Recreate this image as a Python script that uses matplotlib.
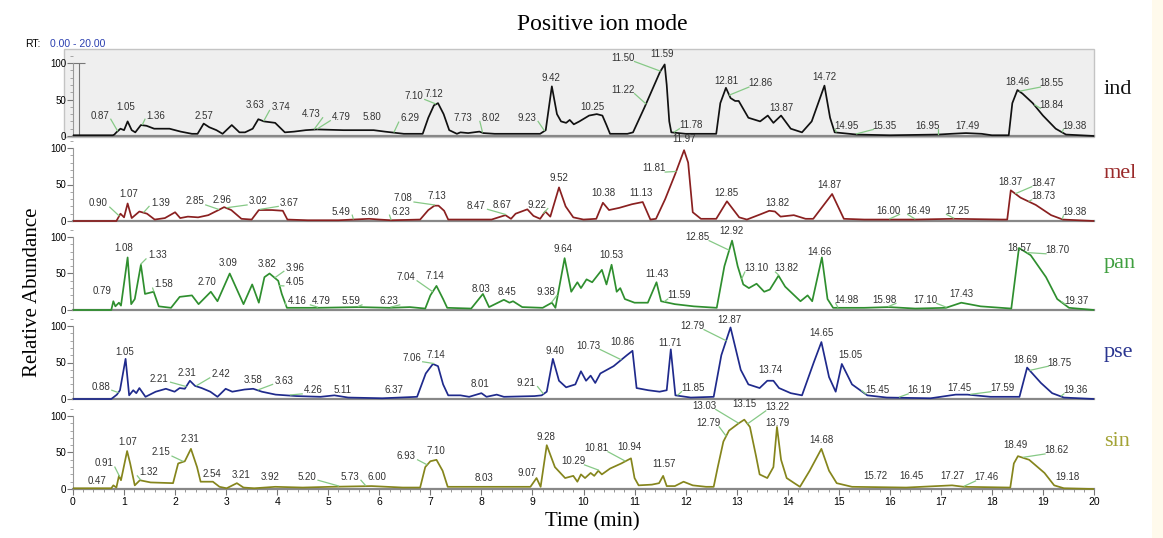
import numpy as np
import matplotlib
matplotlib.use("Agg")
import matplotlib.pyplot as plt
from matplotlib.patches import Rectangle
from matplotlib.ticker import MultipleLocator

# chromatogram traces: (time [min], relative abundance)
ind_trace = [(0, 1), (0.78, 1), (0.81, 2), (0.85, 5), (0.93, 10), (1.0, 8), (1.07, 20), (1.15, 8), (1.22, 5),
             (1.33, 15), (1.44, 14), (1.59, 10), (1.89, 10), (2.11, 6), (2.33, 3), (2.44, 3), (2.56, 17),
             (2.67, 12), (2.81, 8), (2.93, 3), (3.11, 15), (3.26, 5), (3.37, 5), (3.52, 10), (3.63, 23),
             (3.74, 20), (3.96, 18), (4.15, 5), (4.33, 6), (4.56, 8), (4.78, 9), (5.3, 8), (5.89, 8),
             (6.11, 6), (6.48, 3), (6.85, 3), (6.96, 25), (7.07, 42), (7.15, 45), (7.26, 30), (7.37, 8),
             (7.52, 3), (7.59, 5), (7.74, 4), (7.96, 6), (8.04, 4), (8.26, 3), (9.15, 3), (9.26, 8),
             (9.38, 68), (9.48, 30), (9.56, 20), (9.66, 18), (9.73, 22), (9.81, 16), (9.92, 20), (10.11, 28),
             (10.26, 30), (10.37, 28), (10.45, 15), (10.52, 3), (10.86, 3), (10.97, 5), (11.2, 40),
             (11.4, 72), (11.5, 88), (11.59, 98), (11.63, 70), (11.68, 20), (11.72, 5), (12.0, 3),
             (12.6, 3), (12.68, 45), (12.79, 66), (12.88, 52), (12.97, 48), (13.04, 48), (13.23, 25),
             (13.46, 20), (13.61, 28), (13.72, 18), (13.87, 28), (14.06, 10), (14.28, 5), (14.47, 20),
             (14.72, 69), (14.83, 25), (14.92, 5), (15.35, 2), (16.0, 1), (16.95, 2), (17.2, 3),
             (17.49, 4), (17.8, 3), (18.0, 1), (18.33, 1), (18.4, 45), (18.5, 63), (18.6, 58),
             (18.8, 45), (19.0, 28), (19.25, 10), (19.45, 2), (20, 0)]
mel_trace = [(0, 0), (0.85, 0), (0.93, 10), (1.0, 5), (1.07, 24), (1.15, 4), (1.3, 13), (1.45, 10),
             (1.6, 2), (1.8, 4), (2.0, 12), (2.1, 4), (2.25, 6), (2.45, 5), (2.65, 8), (2.85, 15),
             (2.96, 19), (3.1, 15), (3.3, 3), (3.5, 2), (3.64, 15), (3.9, 15), (4.11, 14), (4.2, 2),
             (4.6, 1), (5.2, 1), (5.49, 2), (5.8, 3), (6.0, 2), (6.23, 1), (6.8, 2), (6.96, 15),
             (7.08, 21), (7.16, 21), (7.27, 14), (7.35, 2), (8.2, 2), (8.47, 8), (8.58, 3), (8.67, 10),
             (8.9, 16), (9.02, 7), (9.15, 3), (9.25, 13), (9.35, 6), (9.52, 46), (9.65, 20), (9.8, 5),
             (10.0, 2), (10.25, 3), (10.38, 25), (10.5, 15), (10.7, 18), (10.95, 23), (11.16, 26),
             (11.31, 2), (11.42, 3), (11.6, 30), (11.8, 65), (11.97, 97), (12.05, 80), (12.14, 12),
             (12.3, 3), (12.6, 3), (12.81, 27), (13.05, 5), (13.2, 2), (13.46, 9), (13.64, 14),
             (13.75, 13), (13.86, 6), (14.12, 8), (14.35, 3), (14.5, 3), (14.87, 37), (15.1, 3),
             (15.5, 2), (16.0, 2), (16.49, 2), (17.25, 3), (18.2, 2), (18.3, 2), (18.37, 42),
             (18.56, 32), (18.86, 22), (19.16, 8), (19.39, 2), (20, 0)]
pan_trace = [(0, 0), (0.75, 0), (0.79, 12), (0.83, 5), (0.9, 10), (0.94, 6), (1.07, 72), (1.14, 8),
             (1.21, 15), (1.33, 62), (1.41, 22), (1.58, 25), (1.68, 5), (1.92, 3), (2.09, 18), (2.33, 20),
             (2.46, 8), (2.7, 25), (2.83, 12), (3.07, 50), (3.34, 8), (3.51, 35), (3.64, 10), (3.75, 45),
             (3.85, 50), (4.02, 40), (4.09, 22), (4.19, 3), (4.8, 3), (5.6, 4), (6.2, 3), (6.6, 4),
             (6.9, 2), (7.0, 20), (7.12, 33), (7.25, 15), (7.33, 3), (7.8, 2), (8.03, 22), (8.15, 4),
             (8.44, 14), (8.55, 10), (8.62, 12), (8.8, 4), (9.2, 3), (9.38, 10), (9.45, 3), (9.63, 71),
             (9.76, 25), (9.88, 38), (9.95, 30), (10.06, 42), (10.17, 38), (10.36, 55), (10.45, 35),
             (10.55, 62), (10.65, 25), (10.72, 30), (10.81, 15), (11.0, 10), (11.26, 10), (11.43, 38),
             (11.52, 12), (11.79, 8), (12.16, 5), (12.61, 3), (12.76, 60), (12.91, 95), (13.02, 60),
             (13.13, 35), (13.24, 30), (13.39, 36), (13.54, 25), (13.65, 28), (13.82, 47), (13.95, 32),
             (14.1, 22), (14.25, 12), (14.39, 20), (14.48, 12), (14.67, 72), (14.78, 15), (14.89, 3),
             (15.5, 3), (15.98, 4), (16.5, 2), (17.1, 3), (17.4, 10), (17.78, 5), (18.38, 2),
             (18.53, 85), (18.76, 75), (19.06, 45), (19.28, 15), (19.51, 3), (20, 0)]
pse_trace = [(0, 0), (0.75, 0), (0.86, 6), (0.92, 12), (1.03, 55), (1.1, 5), (1.18, 12), (1.24, 8),
             (1.3, 15), (1.42, 3), (1.62, 10), (1.82, 14), (1.99, 10), (2.09, 15), (2.19, 14), (2.29, 25),
             (2.39, 18), (2.52, 15), (2.69, 10), (2.83, 3), (2.99, 14), (3.12, 10), (3.36, 13),
             (3.53, 14), (3.7, 10), (3.97, 6), (4.38, 4), (4.85, 3), (5.12, 5), (5.39, 2), (6.06, 1),
             (6.74, 3), (6.91, 35), (7.05, 48), (7.15, 45), (7.25, 20), (7.35, 5), (7.59, 5), (7.76, 3),
             (8.0, 8), (8.1, 3), (8.3, 6), (8.44, 3), (9.04, 4), (9.18, 5), (9.28, 10), (9.4, 55),
             (9.52, 25), (9.66, 16), (9.84, 20), (9.95, 38), (10.05, 25), (10.14, 32), (10.23, 22),
             (10.33, 35), (10.59, 45), (10.85, 60), (10.96, 66), (11.04, 15), (11.27, 12), (11.49, 10),
             (11.63, 12), (11.71, 68), (11.8, 5), (12.1, 2), (12.55, 3), (12.7, 60), (12.88, 98),
             (13.08, 40), (13.23, 20), (13.45, 15), (13.6, 25), (13.72, 25), (13.83, 15), (14.06, 8),
             (14.28, 5), (14.51, 50), (14.66, 78), (14.81, 30), (14.94, 10), (15.06, 48), (15.26, 20),
             (15.56, 5), (15.94, 2), (16.8, 1), (17.29, 6), (17.52, 6), (17.97, 3), (18.54, 3),
             (18.69, 43), (18.96, 22), (19.18, 8), (19.41, 2), (20, 0)]
sin_trace = [(0, 1), (0.75, 1), (0.79, 5), (0.85, 2), (0.9, 18), (0.94, 12), (1.06, 52), (1.12, 35),
             (1.21, 5), (1.31, 12), (1.52, 9), (1.96, 8), (2.06, 35), (2.19, 38), (2.31, 55), (2.43, 30),
             (2.5, 10), (2.74, 10), (2.87, 3), (3.01, 1), (3.21, 8), (3.34, 2), (3.55, 1), (3.96, 3),
             (4.5, 2), (5.04, 3), (5.85, 4), (6.46, 2), (6.8, 2), (6.9, 30), (7.0, 38), (7.12, 40),
             (7.24, 25), (7.34, 3), (8.01, 3), (8.96, 3), (9.08, 15), (9.16, 3), (9.28, 60), (9.44, 30),
             (9.64, 15), (9.8, 18), (9.88, 10), (9.95, 20), (10.03, 15), (10.14, 22), (10.21, 18),
             (10.29, 25), (10.36, 20), (10.52, 28), (10.74, 35), (10.93, 42), (11.0, 15), (11.08, 5),
             (11.34, 6), (11.48, 8), (11.56, 18), (11.63, 4), (11.79, 4), (11.96, 10), (12.14, 5),
             (12.4, 3), (12.55, 3), (12.63, 30), (12.74, 65), (12.85, 80), (13.04, 90), (13.15, 95),
             (13.26, 85), (13.38, 45), (13.45, 20), (13.6, 15), (13.72, 30), (13.79, 85), (13.87, 40),
             (13.98, 15), (14.13, 8), (14.24, 3), (14.43, 25), (14.66, 55), (14.81, 25), (14.96, 8),
             (15.26, 3), (16.32, 2), (17.22, 5), (17.45, 3), (18.36, 2), (18.43, 35), (18.51, 45),
             (18.73, 40), (19.03, 22), (19.22, 5), (19.41, 1), (20, 0)]

# labelled retention times
ind_peaks = [0.87, 1.05, 1.36, 2.57, 3.63, 3.74, 4.73, 4.79, 5.80, 6.29, 7.10, 7.12, 7.73, 8.02, 9.23,
             9.42, 10.25, 11.50, 11.59, 11.22, 11.78, 12.81, 12.86, 13.87, 14.72, 14.95, 15.35, 16.95,
             17.49, 18.46, 18.55, 18.84, 19.38]
mel_peaks = [0.90, 1.07, 1.39, 2.85, 2.96, 3.02, 3.67, 5.49, 5.80, 6.23, 7.08, 7.13, 8.47, 8.67, 9.22,
             9.52, 10.38, 11.13, 11.81, 11.97, 12.85, 13.82, 14.87, 16.00, 16.49, 17.25, 18.37, 18.47,
             18.73, 19.38]
pan_peaks = [0.79, 1.08, 1.33, 1.58, 2.70, 3.09, 3.82, 3.96, 4.05, 4.16, 4.79, 5.59, 6.23, 7.04, 7.14,
             8.03, 8.45, 9.38, 9.64, 10.53, 11.43, 11.59, 12.85, 12.92, 13.10, 13.82, 14.66, 14.98,
             15.98, 17.10, 17.43, 18.57, 18.70, 19.37]
pse_peaks = [0.88, 1.05, 2.21, 2.31, 2.42, 3.58, 3.63, 4.26, 5.11, 6.37, 7.06, 7.14, 8.01, 9.21, 9.40,
             10.73, 10.86, 11.71, 11.85, 12.79, 12.87, 13.74, 14.65, 15.05, 15.45, 16.19, 17.45, 17.59,
             18.69, 18.75, 19.36]
sin_peaks = [0.47, 0.91, 1.07, 1.32, 2.15, 2.31, 2.54, 3.21, 3.92, 5.20, 5.73, 6.00, 6.93, 7.10, 8.03,
             9.07, 9.28, 10.29, 10.81, 10.94, 11.57, 13.03, 13.15, 13.22, 12.79, 13.79, 14.68, 15.72,
             16.45, 17.27, 17.46, 18.49, 18.62, 19.18]

names = ["ind", "mel", "pan", "pse", "sin"]

# label placement (text x, text y, leader line yes/no) - layout only
ind_lab = [(0.52, 28, 1), (1.04, 40, 0), (1.63, 28, 1), (2.56, 28, 0), (3.56, 42, 0), (4.07, 40, 1),
           (4.67, 30, 1), (5.26, 26, 1), (5.85, 26, 0), (6.6, 24, 1), (6.67, 55, 1), (7.07, 57, 0),
           (7.63, 25, 0), (8.19, 25, 1), (8.89, 25, 1), (9.37, 80, 0), (10.18, 40, 0), (10.78, 107, 1),
           (11.54, 112, 0), (10.78, 63, 1), (12.1, 15, 1), (12.79, 76, 0), (13.46, 72, 1), (13.87, 39, 0),
           (14.72, 81, 0), (15.15, 14, 1), (15.9, 14, 1), (16.73, 14, 1), (17.52, 14, 0), (18.5, 74, 0),
           (19.17, 72, 1), (19.17, 43, 1), (19.62, 14, 1)]
mel_lab = [(0.5, 24, 1), (1.1, 37, 0), (1.71, 25, 1), (2.38, 27, 1), (2.92, 29, 0), (3.63, 27, 1),
           (4.24, 25, 1), (5.25, 13, 1), (5.82, 13, 0), (6.42, 13, 1), (6.46, 31, 1), (7.13, 34, 0),
           (7.9, 21, 1), (8.41, 22, 0), (9.08, 22, 1), (9.52, 59, 0), (10.38, 38, 0), (11.13, 39, 0),
           (11.38, 72, 1), (11.97, 112, 0), (12.8, 39, 0), (13.79, 24, 0), (14.81, 50, 0), (15.97, 14, 1),
           (16.57, 14, 1), (17.33, 14, 1), (18.37, 54, 0), (19.0, 52, 1), (19.0, 34, 1), (19.62, 12, 1)]
pan_lab = [(0.57, 26, 0), (1.0, 85, 0), (1.65, 75, 1), (1.78, 35, 1), (2.63, 38, 0), (3.03, 64, 0),
           (3.81, 63, 0), (4.35, 58, 1), (4.35, 38, 1), (4.39, 12, 1), (4.87, 12, 1), (5.44, 12, 1),
           (6.18, 12, 1), (6.52, 45, 1), (7.08, 46, 0), (8.0, 29, 0), (8.5, 24, 0), (9.26, 25, 1),
           (9.6, 84, 0), (10.55, 75, 0), (11.43, 49, 0), (11.87, 20, 1), (12.24, 100, 1), (12.9, 108, 0),
           (13.38, 57, 1), (13.98, 57, 1), (14.63, 79, 0), (15.16, 14, 1), (15.9, 14, 1), (16.7, 14, 1),
           (17.4, 22, 0), (18.53, 85, 0), (19.28, 82, 1), (19.66, 13, 1)]
pse_lab = [(0.54, 17, 1), (1.02, 65, 0), (1.69, 28, 1), (2.24, 36, 0), (2.9, 34, 1), (3.53, 26, 0),
           (4.13, 25, 1), (4.71, 12, 1), (5.28, 12, 0), (6.29, 12, 0), (6.63, 56, 1), (7.11, 60, 0),
           (7.97, 20, 0), (8.88, 22, 1), (9.45, 66, 0), (10.1, 73, 1), (10.77, 78, 0), (11.69, 77, 0),
           (12.14, 15, 1), (12.14, 100, 1), (12.85, 108, 0), (13.67, 40, 0), (14.66, 90, 0),
           (15.22, 60, 0), (15.75, 12, 1), (16.58, 12, 1), (17.37, 15, 0), (18.2, 15, 1), (18.65, 53, 0),
           (19.33, 50, 1), (19.63, 12, 1)]
sin_lab = [(0.47, 11, 0), (0.6, 35, 1), (1.08, 64, 0), (1.48, 23, 1), (1.72, 50, 1), (2.29, 68, 0),
           (2.73, 20, 0), (3.3, 19, 0), (3.87, 17, 0), (4.58, 17, 1), (5.42, 17, 1), (5.96, 17, 0),
           (6.53, 45, 1), (7.11, 52, 0), (8.05, 15, 0), (8.9, 22, 0), (9.27, 71, 0), (9.8, 38, 1),
           (10.26, 56, 1), (10.9, 57, 0), (11.58, 34, 0), (12.37, 114, 1), (13.15, 116, 0),
           (13.79, 112, 1), (12.44, 90, 1), (13.79, 90, 0), (14.66, 67, 0), (15.72, 18, 0),
           (16.43, 18, 0), (17.22, 18, 0), (17.9, 16, 1), (18.47, 60, 0), (19.26, 53, 1), (19.48, 16, 0)]

traces = [ind_trace, mel_trace, pan_trace, pse_trace, sin_trace]
peaks = [ind_peaks, mel_peaks, pan_peaks, pse_peaks, sin_peaks]
labs = [ind_lab, mel_lab, pan_lab, pse_lab, sin_lab]
line_cols = ["#111111", "#8a2020", "#2f8f2f", "#1f2a8c", "#85851c"]
name_cols = ["#111111", "#9a2a2a", "#3f9f3f", "#2a3590", "#a3a335"]
cursor_rt = 0.12

W, H = 1163, 538
fig = plt.figure(figsize=(W / 100, H / 100), dpi=100)
fig.patches.append(Rectangle((1152 / W, 0), 11 / W, 1, transform=fig.transFigure,
                             facecolor="#fffaec", edgecolor="none", zorder=0))

baselines = [136, 221, 310, 399, 489]
px_unit = 0.73
ymin, ymax = -2, 119
x0, x1 = 73, 1094
sans = "Liberation Sans"
serif = "Liberation Serif"

for i in range(5):
    b = baselines[i] - ymin * px_unit
    h = (ymax - ymin) * px_unit
    ax = fig.add_axes([x0 / W, 1 - b / H, (x1 - x0) / W, h / H])
    ax.set_facecolor("none")
    t, y = np.array(traces[i]).T
    ax.plot(t, y, color=line_cols[i], lw=1.25, zorder=3, solid_joinstyle="round")
    ax.set_xlim(0, 20)
    ax.set_ylim(ymin, ymax)

    for pk, (lx, ly, lead) in zip(peaks[i], labs[i]):
        ax.text(lx, ly, f"{pk:.2f}", fontsize=7, family=sans, color="#333333",
                ha="center", va="center", zorder=5)
        if lead:
            # short green leader from the label's side to the trace
            sx = lx + np.sign(pk - lx) * 0.22
            ax.plot([sx, pk], [ly - 5, np.interp(pk, t, y) + 1], color="#86c986", lw=0.9,
                    zorder=4, clip_on=False)

    for s in ["top", "right"]:
        ax.spines[s].set_visible(False)
    ax.spines["left"].set_color("#999999")
    ax.spines["bottom"].set_position(("data", 0))
    ax.spines["bottom"].set_color("#888888")
    ax.spines["bottom"].set_linewidth(1.6)
    ax.set_yticks([0, 50, 100])
    ax.yaxis.set_minor_locator(MultipleLocator(10))
    ax.tick_params(axis="y", which="major", labelsize=7, length=4, color="#777777", pad=1)
    ax.tick_params(axis="y", which="minor", length=2, color="#999999")
    for lbl in ax.get_yticklabels():
        lbl.set_family(sans)
    ax.spines["left"].set_bounds(0, 100)

    if i == 4:
        ax.set_xticks(range(0, 21))
        ax.xaxis.set_minor_locator(MultipleLocator(0.2))
        ax.tick_params(axis="x", which="major", labelsize=7.5, length=4, color="#777777", pad=2)
        ax.tick_params(axis="x", which="minor", length=2, color="#888888")
        for lbl in ax.get_xticklabels():
            lbl.set_family(sans)
    else:
        ax.set_xticks([])

    if i == 0:
        ax.add_patch(Rectangle((-0.18, -1.5), 20.18, 120.5, facecolor="#efefef",
                               edgecolor="#c4c4c4", lw=1, zorder=0, clip_on=False))
        ax.vlines(cursor_rt, 0, 100, color="#777777", lw=0.8, zorder=2)
        ax.hlines(100, cursor_rt - 0.12, cursor_rt + 0.12, color="#777777", lw=0.8, zorder=2)

    fig.text(1104 / W, 1 - (baselines[i] - 47) / H, names[i], fontsize=16, family=serif,
             color=name_cols[i], ha="left", va="center")

fig.text(602 / W, 1 - 25 / H, "Positive ion mode", fontsize=17, family=serif, ha="center", va="center")
fig.text(25 / W, 1 - 44 / H, "RT:", fontsize=7.5, family=sans, ha="left", va="center")
fig.text(50 / W, 1 - 44 / H, "0.00 - 20.00", fontsize=7.5, family=sans, color="#2b3fb0",
         ha="left", va="center")
fig.text(33 / W, 1 - 292 / H, "Relative Abundance", fontsize=15, family=serif, rotation=90,
         ha="center", va="center")
fig.text(592 / W, 1 - 522 / H, "Time (min)", fontsize=15, family=serif, ha="center", va="center")

fig.savefig("out.png", dpi=100)
